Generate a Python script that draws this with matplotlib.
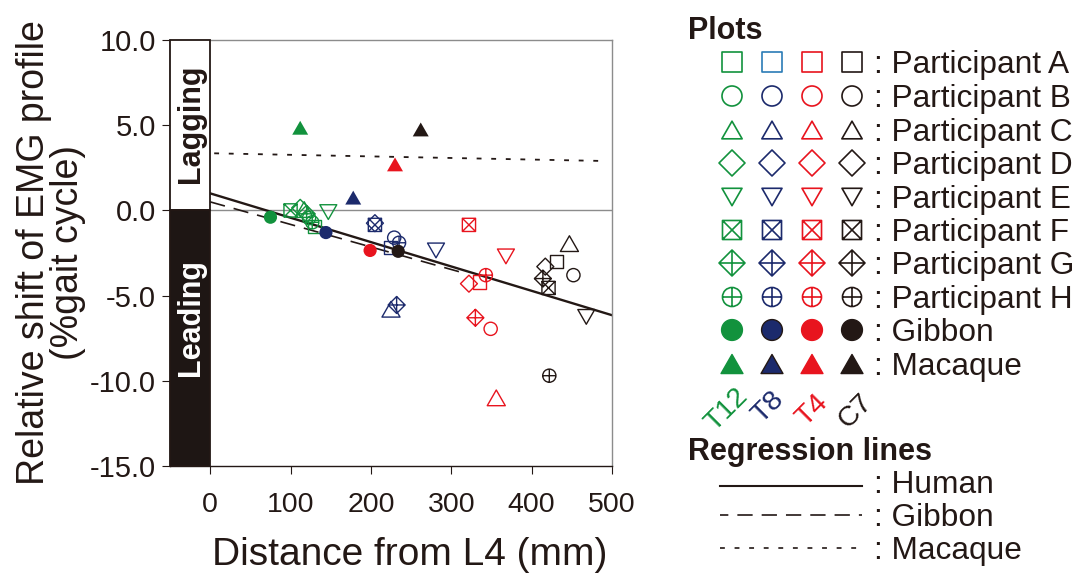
import numpy as np
import matplotlib
matplotlib.use('Agg')
import matplotlib.pyplot as plt
from matplotlib.path import Path
from matplotlib.patches import Rectangle

plt.rcParams['font.family'] = ['Liberation Sans', 'DejaVu Sans']
plt.rcParams['axes.unicode_minus'] = False
plt.rcParams['lines.scale_dashes'] = False

# ---------------- data ----------------
segments = ['T12', 'T8', 'T4', 'C7']
participants = ['A', 'B', 'C', 'D', 'E', 'F', 'G', 'H']

# human participants (order A..H): distance from L4 (mm), shift (%gait cycle)
x_t12 = [130, 123, 117, 112, 147, 100, 120, 127]
y_t12 = [-0.95, -0.45, 0.05, 0.15, -0.1, 0.0, -0.2, -0.7]
x_t8 = [224, 229, 225, 205, 281, 205, 232, 235]
y_t8 = [-2.2, -1.6, -5.8, -0.75, -2.35, -0.85, -5.55, -1.9]
x_t4 = [335, 349, 356, 322, 368, 322, 330, 343]
y_t4 = [-4.2, -6.95, -11.0, -4.3, -2.7, -0.85, -6.3, -3.8]
x_c7 = [431, 452, 447, 417, 468, 421, 414, 422]
y_c7 = [-3.0, -3.8, -1.95, -3.3, -6.25, -4.55, -4.0, -9.7]

gibbon_x = [75, 144, 199, 234]
gibbon_y = [-0.4, -1.3, -2.35, -2.4]
macaque_x = [112, 178, 230, 262]
macaque_y = [4.85, 0.75, 2.7, 4.75]

human_line_x = [0, 500]
human_line_y = [1.0, -6.15]
gibbon_line_x = [0, 310]
gibbon_line_y = [0.5, -3.6]
macaque_line_x = [5, 490]
macaque_line_y = [3.35, 2.9]

xticks = [0, 100, 200, 300, 400, 500]
yticks = [10, 5, 0, -5, -10, -15]

# ---------------- styles ----------------
INK = '#231815'
seg_colors = ['#12923d', '#1c2a6c', '#e8141e', INK]
GRAY = '#8c8c8c'

MV, LN, CL = Path.MOVETO, Path.LINETO, Path.CLOSEPOLY


def poly(pts):
    verts = list(pts) + [pts[0]]
    codes = [MV] + [LN] * (len(pts) - 1) + [CL]
    return Path(verts, codes)


def seg(a, b):
    return Path([a, b], [MV, LN])


square = poly([(-1, -1), (1, -1), (1, 1), (-1, 1)])
diamond = poly([(0, 1), (1, 0), (0, -1), (-1, 0)])
tri_up = poly([(0, 0.87), (-1, -0.87), (1, -0.87)])
tri_dn = poly([(0, -0.87), (1, 0.87), (-1, 0.87)])
circle = Path.unit_circle()
sq_x = Path.make_compound_path(square, seg((-1, -1), (1, 1)), seg((-1, 1), (1, -1)))
dia_plus = Path.make_compound_path(diamond, seg((-1, 0), (1, 0)), seg((0, -1), (0, 1)))
circ_plus = Path.make_compound_path(circle, seg((-1, 0), (1, 0)), seg((0, -1), (0, 1)))

shapes = [square, circle, tri_up, diamond, tri_dn, sq_x, dia_plus, circ_plus]
plot_ms = [9.5, 9.5, 13, 12.2, 12.2, 9.5, 12.2, 9.5]
leg_ms = [13.7, 14.4, 14.6, 18.7, 14.4, 13.7, 18.7, 13.7]

GIB_DASH = (0, (11, 6.5))
MAC_DASH = (0, (3.5, 7))

# ---------------- figure ----------------
fig = plt.figure(figsize=(10.78, 5.75), dpi=100)
ax = fig.add_axes([170 / 1078, 1 - 466 / 575, 442 / 1078, 426 / 575])
ax.set_xlim(-50, 500)
ax.set_ylim(-15, 10)

# leading / lagging band
ax.add_patch(Rectangle((-50, 0), 50, 10, facecolor='white', edgecolor=INK,
                       lw=1.3, zorder=5, clip_on=False))
ax.add_patch(Rectangle((-50, -15), 50, 15, facecolor='#1e1614', edgecolor=INK,
                       lw=1.3, zorder=5, clip_on=False))
ax.text(-24, 5.1, 'Lagging', rotation=90, ha='center', va='center',
        fontsize=22, fontweight='bold', color=INK, zorder=6)
ax.text(-24, -6.3, 'Leading', rotation=90, ha='center', va='center',
        fontsize=22, fontweight='bold', color='white', zorder=6)

ax.axhline(0, xmin=50 / 550, xmax=1, color=GRAY, lw=1.0, zorder=1)

# regression lines
ax.plot(human_line_x, human_line_y, color=INK, lw=1.7, zorder=2)
ax.plot(gibbon_line_x, gibbon_line_y, color=INK, lw=1.2, ls=GIB_DASH, zorder=2)
ax.plot(macaque_line_x, macaque_line_y, color=INK, lw=1.3, ls=MAC_DASH, zorder=2)

# human participants
xs_all = [x_t12, x_t8, x_t4, x_c7]
ys_all = [y_t12, y_t8, y_t4, y_c7]
for i, p in enumerate(participants):
    px = [xs[i] for xs in xs_all]
    py = [ys[i] for ys in ys_all]
    ax.scatter(px, py, marker=shapes[i], s=plot_ms[i] ** 2, facecolors='none',
               edgecolors=seg_colors, linewidths=1.0, zorder=3)

ax.scatter(gibbon_x, gibbon_y, marker='o', s=9.5 ** 2, c=seg_colors,
           edgecolors='none', zorder=4)
ax.scatter(macaque_x, macaque_y, marker=tri_up, s=11.5 ** 2, c=seg_colors,
           edgecolors='none', zorder=4)

# axes styling
for side in ['top', 'right']:
    ax.spines[side].set_color(GRAY)
    ax.spines[side].set_linewidth(1.0)
for side in ['left', 'bottom']:
    ax.spines[side].set_color(INK)
    ax.spines[side].set_linewidth(1.0)
ax.set_xticks(xticks)
ax.set_xticklabels([str(v) for v in xticks])
ax.set_yticks(yticks)
ax.set_yticklabels([f'{v:.1f}' for v in yticks])
ax.tick_params(axis='both', direction='out', length=6, width=0.8, color=INK,
               labelcolor=INK)
ax.tick_params(axis='x', labelsize=20.5, pad=13)
ax.tick_params(axis='y', labelsize=21, pad=4)

ax.set_xlabel('Distance from L4 (mm)', fontsize=28, color=INK)
ax.xaxis.set_label_coords(0.543, -0.166)
ax.xaxis.label.set_va('top')
ax.set_ylabel('Relative shift of EMG profile\n(%gait cycle)', fontsize=27,
              color=INK, linespacing=0.9)
ax.yaxis.set_label_coords(-0.191, 0.5)

# ---------------- legend (drawn in pixel coordinates) ----------------
lax = fig.add_axes([0, 0, 1, 1], zorder=10)
lax.set_xlim(0, 1078)
lax.set_ylim(575, 0)
lax.axis('off')

col_x = [732, 772, 812, 852]
row_y = [62, 96, 130, 163, 197, 230, 263, 297, 330, 364]
leg_colors_a = ['#12923d', '#2b7cb6', '#e8141e', INK]
LFS = 22.8

lax.text(688, 39, 'Plots', fontsize=22, fontweight='bold', color=INK,
         ha='left', va='baseline')
for i, p in enumerate(participants):
    cols = leg_colors_a if i == 0 else seg_colors
    lax.scatter(col_x, [row_y[i]] * 4, marker=shapes[i], s=leg_ms[i] ** 2,
                facecolors='none', edgecolors=cols, linewidths=1.2)
    lax.text(874, row_y[i] + 11, f': Participant {p}', fontsize=LFS, color=INK,
             ha='left', va='baseline')
lax.scatter(col_x, [row_y[8]] * 4, marker='o', s=15 ** 2, c=seg_colors,
            edgecolors=['#12923d', INK, '#e8141e', INK], linewidths=1.0)
lax.text(874, row_y[8] + 11, ': Gibbon', fontsize=LFS, color=INK,
         ha='left', va='baseline')
lax.scatter(col_x, [row_y[9]] * 4, marker=tri_up, s=15.8 ** 2, c=seg_colors,
            edgecolors=['#12923d', INK, '#e8141e', INK], linewidths=1.0)
lax.text(874, row_y[9] + 11, ': Macaque', fontsize=LFS, color=INK,
         ha='left', va='baseline')

seg_label_xy = [(727, 410), (768, 407), (812, 410), (855, 411)]
for name, col, (tx, ty) in zip(segments, seg_colors, seg_label_xy):
    lax.text(tx, ty, name, rotation=45, fontsize=20.5, color=col,
             ha='center', va='center')

lax.text(688, 460, 'Regression lines', fontsize=22, fontweight='bold',
         color=INK, ha='left', va='baseline')
lax.plot([720, 862], [486, 486], color=INK, lw=1.5)
lax.plot([720, 862], [515, 515], color=INK, lw=1.2, ls=(5, (11, 6.5)))
lax.plot([720, 862], [548, 548], color=INK, lw=1.2, ls=MAC_DASH)
lax.text(874, 493, ': Human', fontsize=LFS, color=INK, ha='left', va='baseline')
lax.text(874, 526, ': Gibbon', fontsize=LFS, color=INK, ha='left', va='baseline')
lax.text(874, 559, ': Macaque', fontsize=LFS, color=INK, ha='left', va='baseline')

fig.savefig('out.png', dpi=100)
